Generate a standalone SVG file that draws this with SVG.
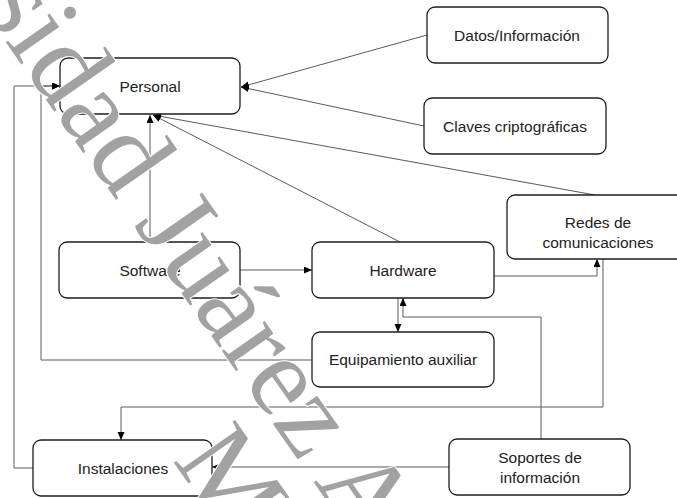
<svg xmlns="http://www.w3.org/2000/svg" width="677" height="498" viewBox="0 0 677 498">
<defs>
<style>
.box{fill:#fff;stroke:#1e1e1e;stroke-width:1.3}
.lbl{font-family:"Liberation Sans",Arial,sans-serif;font-size:15.5px;fill:#222;text-anchor:middle}
.con{fill:none;stroke:#5a5a5a;stroke-width:1}
.wm{font-family:"Liberation Serif","Times New Roman",serif;font-size:114px;fill:#a2a2a2;stroke:#fff;stroke-width:2;paint-order:stroke}
</style>
<marker id="ah" markerUnits="userSpaceOnUse" markerWidth="9" markerHeight="8" refX="8" refY="3.5" orient="auto">
<path d="M0,0 L8,3.5 L0,7 z" fill="#000"/>
</marker>
</defs>
<rect width="677" height="498" fill="#fff"/>
<g id="connectors" class="con" marker-end="url(#ah)">
<path d="M427,35 L241,87"/>
<path d="M424,126 L241,87"/>
<path d="M150,242 V115"/>
<path d="M400,242 L153,115"/>
<path d="M595,195 L153,115"/>
<path d="M240,270 H312"/>
<path d="M494,276 H597 V259"/>
<path d="M398,298 V332"/>
<path d="M541,439 V317 H403 V298"/>
<path d="M312,360 H41 V86 H60"/>
<path d="M33,468 H14 V86 H60"/>
<path d="M603,259 V407 H121 V440"/>
<path d="M449,467 H212"/>
</g>
<g id="personal"><rect class="box" x="60" y="58" width="180" height="56" rx="8"/><text class="lbl" x="150" y="92">Personal</text></g>
<g id="datos"><rect class="box" x="427" y="7" width="181" height="56" rx="8"/><text class="lbl" x="517" y="41">Datos/Información</text></g>
<g id="claves"><rect class="box" x="424" y="98" width="182" height="56" rx="8"/><text class="lbl" x="515" y="132">Claves criptográficas</text></g>
<g id="redes"><rect class="box" x="507" y="195" width="182" height="64" rx="8"/><text class="lbl" x="598" y="228">Redes de</text><text class="lbl" x="598" y="248">comunicaciones</text></g>
<g id="software"><rect class="box" x="59" y="242" width="181" height="56" rx="8"/><text class="lbl" x="150" y="276">Software</text></g>
<g id="hardware"><rect class="box" x="312" y="242" width="182" height="56" rx="8"/><text class="lbl" x="403" y="276">Hardware</text></g>
<g id="equipamiento"><rect class="box" x="312" y="332" width="182" height="55" rx="8"/><text class="lbl" x="403" y="365">Equipamiento auxiliar</text></g>
<g id="instalaciones"><rect class="box" x="33" y="440" width="179" height="56" rx="8"/><text class="lbl" x="123" y="474">Instalaciones</text></g>
<g id="soportes"><rect class="box" x="449" y="439" width="181" height="56" rx="8"/><text class="lbl" x="540" y="463">Soportes de</text><text class="lbl" x="540" y="483">información</text></g>
<g id="watermark">
<text class="wm" transform="translate(-21,4) rotate(55)">sidad Juárez A</text>
<text class="wm" transform="translate(172,460) rotate(55)">M</text>
</g>
</svg>
